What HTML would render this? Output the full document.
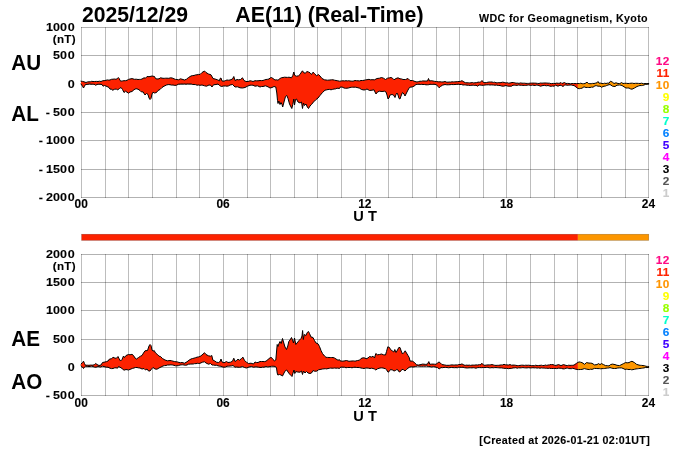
<!DOCTYPE html>
<html><head><meta charset="utf-8"><title>AE(11) (Real-Time) 2025/12/29</title>
<style>
html,body{margin:0;padding:0;background:#fff;}
body{width:700px;height:450px;overflow:hidden;}
svg{display:block;}
text{font-family:"Liberation Sans",sans-serif;font-weight:bold;}
.g rect{fill:#000;fill-opacity:0.3;shape-rendering:crispEdges;}
.g rect.v{fill-opacity:0.26;}
.ol{fill:none;stroke:#000;stroke-width:1;stroke-linejoin:round;stroke-linecap:round;}
.ax text{stroke:#000;stroke-width:0.1px;font-size:11.6px;letter-spacing:0px;word-spacing:-0.3px;}
.lg text{stroke-width:0.12px;font-size:11.8px;letter-spacing:0.4px;}
.big text{font-size:22px;}
.sm{stroke:#000;stroke-width:0.1px;font-size:10.7px;}
.xl text{letter-spacing:0px;font-size:11.9px;word-spacing:0;}
</style></head>
<body>
<svg width="700" height="450" viewBox="0 0 700 450">
<rect width="700" height="450" fill="#fff"/>
<g class="big">
<text transform="translate(82,22) scale(0.963,1)">2025/12/29</text>
<text transform="translate(235.3,22) scale(0.971,1)">AE(11) (Real-Time)</text>
<text transform="translate(11.2,69.6) scale(0.94,1)">AU</text>
<text transform="translate(11.2,120.7) scale(0.94,1)">AL</text>
<text transform="translate(11.2,346.3) scale(0.94,1)">AE</text>
<text transform="translate(11.2,388.6) scale(0.94,1)">AO</text>
</g>
<text class="sm" x="479" y="22" textLength="168.6" lengthAdjust="spacing">WDC for Geomagnetism, Kyoto</text>
<text class="sm" x="479.3" y="443.6" textLength="170.4" lengthAdjust="spacing">[Created at 2026-01-21 02:01UT]</text>
<g class="g">
<rect class="v" x="81" y="27" width="1" height="171"/>
<rect class="v" x="105" y="27" width="1" height="171"/>
<rect class="v" x="128" y="27" width="1" height="171"/>
<rect class="v" x="152" y="27" width="1" height="171"/>
<rect class="v" x="176" y="27" width="1" height="171"/>
<rect class="v" x="199" y="27" width="1" height="171"/>
<rect class="v" x="223" y="27" width="1" height="171"/>
<rect class="v" x="247" y="27" width="1" height="171"/>
<rect class="v" x="270" y="27" width="1" height="171"/>
<rect class="v" x="294" y="27" width="1" height="171"/>
<rect class="v" x="317" y="27" width="1" height="171"/>
<rect class="v" x="341" y="27" width="1" height="171"/>
<rect class="v" x="365" y="27" width="1" height="171"/>
<rect class="v" x="388" y="27" width="1" height="171"/>
<rect class="v" x="412" y="27" width="1" height="171"/>
<rect class="v" x="436" y="27" width="1" height="171"/>
<rect class="v" x="459" y="27" width="1" height="171"/>
<rect class="v" x="483" y="27" width="1" height="171"/>
<rect class="v" x="506" y="27" width="1" height="171"/>
<rect class="v" x="530" y="27" width="1" height="171"/>
<rect class="v" x="554" y="27" width="1" height="171"/>
<rect class="v" x="577" y="27" width="1" height="171"/>
<rect class="v" x="601" y="27" width="1" height="171"/>
<rect class="v" x="625" y="27" width="1" height="171"/>
<rect class="v" x="648" y="27" width="1" height="171"/>
<rect x="81" y="27" width="568" height="1"/>
<rect x="81" y="55" width="568" height="1"/>
<rect x="81" y="84" width="568" height="1"/>
<rect x="81" y="112" width="568" height="1"/>
<rect x="81" y="140" width="568" height="1"/>
<rect x="81" y="169" width="568" height="1"/>
<rect x="81" y="197" width="568" height="1"/>
</g>
<g class="g">
<rect class="v" x="81" y="254" width="1" height="142"/>
<rect class="v" x="105" y="254" width="1" height="142"/>
<rect class="v" x="128" y="254" width="1" height="142"/>
<rect class="v" x="152" y="254" width="1" height="142"/>
<rect class="v" x="176" y="254" width="1" height="142"/>
<rect class="v" x="199" y="254" width="1" height="142"/>
<rect class="v" x="223" y="254" width="1" height="142"/>
<rect class="v" x="247" y="254" width="1" height="142"/>
<rect class="v" x="270" y="254" width="1" height="142"/>
<rect class="v" x="294" y="254" width="1" height="142"/>
<rect class="v" x="317" y="254" width="1" height="142"/>
<rect class="v" x="341" y="254" width="1" height="142"/>
<rect class="v" x="365" y="254" width="1" height="142"/>
<rect class="v" x="388" y="254" width="1" height="142"/>
<rect class="v" x="412" y="254" width="1" height="142"/>
<rect class="v" x="436" y="254" width="1" height="142"/>
<rect class="v" x="459" y="254" width="1" height="142"/>
<rect class="v" x="483" y="254" width="1" height="142"/>
<rect class="v" x="506" y="254" width="1" height="142"/>
<rect class="v" x="530" y="254" width="1" height="142"/>
<rect class="v" x="554" y="254" width="1" height="142"/>
<rect class="v" x="577" y="254" width="1" height="142"/>
<rect class="v" x="601" y="254" width="1" height="142"/>
<rect class="v" x="625" y="254" width="1" height="142"/>
<rect class="v" x="648" y="254" width="1" height="142"/>
<rect x="81" y="254" width="568" height="1"/>
<rect x="81" y="282" width="568" height="1"/>
<rect x="81" y="310" width="568" height="1"/>
<rect x="81" y="339" width="568" height="1"/>
<rect x="81" y="367" width="568" height="1"/>
<rect x="81" y="395" width="568" height="1"/>
</g>
<g>
<polygon points="81.0,81.2 82.5,81.4 84.0,81.8 86.0,82.5 87.5,81.9 89.0,81.8 90.3,81.8 91.7,81.3 93.0,81.5 94.7,81.5 96.3,81.4 98.0,81.5 99.5,81.2 101.0,81.5 102.5,80.8 104.2,80.6 106.0,80.3 107.3,79.9 108.7,80.1 110.0,80.0 111.5,79.3 113.0,79.2 114.5,79.0 116.0,79.3 117.5,78.5 118.3,77.5 119.2,78.5 120.0,80.5 121.0,81.2 122.5,80.9 124.0,80.7 125.5,80.7 127.0,80.3 128.5,79.4 130.0,79.0 132.0,78.6 134.5,79.3 136.2,79.2 138.0,79.5 139.3,79.4 140.7,79.4 142.0,79.0 144.0,77.8 145.5,78.2 147.0,76.5 149.0,76.7 150.0,76.5 152.0,76.0 154.5,76.5 155.5,78.5 157.0,79.0 159.0,78.8 160.5,77.8 163.0,78.3 164.3,78.3 165.7,78.2 167.0,78.2 168.8,78.3 170.5,77.8 172.2,78.0 174.0,78.8 175.5,79.4 177.0,79.5 178.5,79.8 180.5,78.8 183.0,79.5 184.5,80.0 186.5,79.2 188.5,77.5 191.0,76.0 192.5,75.6 194.0,75.5 195.5,74.9 197.0,74.8 198.5,74.4 200.0,74.5 202.0,72.5 204.5,71.0 206.0,72.5 208.5,74.0 211.0,74.8 213.0,78.5 215.0,79.0 217.5,79.8 219.5,80.8 220.0,78.5 221.0,78.0 222.0,81.0 224.0,81.2 225.5,80.5 227.0,80.0 228.5,80.2 230.0,80.0 232.5,79.0 233.8,76.5 235.0,80.5 237.0,79.5 238.5,79.8 240.5,79.5 242.5,77.8 244.0,80.5 246.0,81.5 248.0,81.5 250.0,80.8 251.5,81.0 253.0,81.5 255.0,80.7 256.5,80.8 258.0,80.8 260.0,80.5 261.5,80.6 263.0,80.5 264.5,79.9 266.0,79.5 267.5,79.3 269.0,79.0 270.0,78.0 271.5,77.5 273.0,78.5 275.0,80.0 276.5,79.8 278.0,80.2 280.0,78.5 281.5,77.7 283.0,77.5 284.5,77.2 286.0,77.3 287.5,77.4 289.0,77.2 291.5,77.8 292.8,75.5 293.8,72.0 294.8,75.5 296.5,76.2 298.5,75.8 300.0,74.5 301.5,72.0 302.5,70.8 303.8,72.8 305.5,73.2 306.8,71.5 308.5,72.0 310.0,72.8 311.5,74.5 313.0,72.2 314.5,73.5 316.5,75.8 318.5,74.5 320.0,76.0 322.0,78.5 324.5,79.8 326.0,80.0 327.5,80.2 330.0,80.0 331.5,79.8 333.0,79.8 334.5,80.2 336.0,80.5 337.8,80.8 339.5,81.2 340.0,81.2 341.5,80.9 343.0,80.8 344.5,80.9 346.0,80.7 347.3,80.9 348.7,80.7 350.0,81.0 351.5,81.1 353.0,81.2 355.0,80.5 356.5,80.7 358.0,80.8 359.5,80.9 361.0,80.5 362.5,80.5 364.0,80.3 365.5,79.9 367.0,79.7 369.0,79.3 370.5,79.8 372.0,79.7 374.5,79.8 377.0,78.5 379.5,78.2 381.5,77.5 383.5,78.2 385.5,79.5 387.5,78.2 389.5,77.8 391.0,77.5 392.5,78.2 394.0,79.8 396.0,78.5 398.0,77.8 400.0,78.8 401.5,78.9 403.0,79.5 405.5,79.5 408.0,78.5 409.5,80.0 410.0,80.5 412.5,80.5 415.0,81.5 417.0,82.0 418.5,81.6 420.0,81.2 421.3,81.3 422.7,80.9 424.0,81.0 425.8,81.0 427.5,81.0 428.5,78.5 429.5,81.0 431.2,80.7 433.0,81.0 434.8,81.4 436.5,81.5 438.2,81.8 440.0,81.8 441.5,81.9 443.0,82.0 445.0,81.5 446.5,82.1 448.0,82.2 449.3,82.0 450.7,82.1 452.0,81.8 453.3,81.9 454.7,81.8 456.0,81.8 457.5,81.6 459.0,81.5 460.5,81.3 462.0,80.7 464.0,82.0 465.5,82.7 467.0,82.8 468.3,82.8 469.7,82.9 471.0,82.8 472.3,82.5 473.7,82.9 475.0,82.8 476.5,82.6 478.0,82.2 479.5,82.0 480.0,82.5 482.0,80.5 483.5,82.5 485.0,82.7 486.5,82.5 488.0,82.2 489.3,82.0 490.7,82.0 492.0,82.0 493.3,82.4 494.7,82.2 496.0,82.8 497.3,82.8 498.7,82.6 500.0,82.8 502.5,82.2 504.2,82.4 506.0,83.0 507.3,82.7 508.7,83.2 510.0,83.0 512.0,82.5 513.3,82.5 514.7,82.8 516.0,83.2 517.5,83.1 519.0,83.4 520.5,82.9 522.0,83.2 523.3,83.2 524.7,83.2 526.0,83.4 527.3,83.4 528.7,83.4 530.0,83.2 531.5,83.1 533.0,83.1 534.5,83.1 536.0,83.2 537.5,83.4 539.0,83.5 540.5,83.0 542.0,83.2 543.5,83.0 545.0,83.0 546.5,83.0 548.0,83.2 549.5,83.2 550.0,83.5 551.7,83.6 553.3,83.4 555.0,83.5 556.7,83.1 558.3,83.3 560.0,83.2 561.0,82.5 562.0,83.5 564.5,82.5 566.0,83.5 567.5,83.4 569.0,83.5 570.5,83.8 572.0,83.5 573.5,83.6 575.0,83.5 576.5,83.6 577.9,83.5 577.9,88.4 576.0,87.0 574.0,85.5 572.7,85.5 571.3,85.0 570.0,85.0 568.6,85.2 567.2,85.3 565.9,84.9 564.5,85.2 563.0,86.5 561.5,85.6 560.0,85.2 558.0,86.2 555.5,85.2 554.0,86.2 552.7,86.0 551.3,86.3 550.0,86.2 549.5,86.0 548.0,85.5 546.3,85.8 544.7,85.4 543.0,85.5 540.5,86.2 538.0,85.2 536.7,85.1 535.3,85.5 534.0,85.4 532.7,85.1 531.3,85.4 530.0,85.2 528.6,85.0 527.1,85.2 525.7,85.4 524.3,85.4 522.9,85.4 521.4,85.3 520.0,85.2 518.6,85.0 517.2,85.4 515.8,85.3 514.4,85.2 513.0,85.2 511.5,86.2 509.0,86.2 507.5,86.1 506.0,85.5 503.5,86.2 501.8,86.1 500.0,85.5 498.3,85.5 496.7,85.1 495.0,85.2 493.3,85.0 491.7,84.9 490.0,85.0 488.3,84.8 486.7,84.9 485.0,85.0 483.3,85.3 481.7,85.3 480.0,85.0 479.0,85.0 477.5,86.2 476.0,85.2 474.7,85.5 473.3,85.2 472.0,85.2 470.3,85.5 468.7,85.3 467.0,85.2 465.7,85.0 464.3,84.9 463.0,85.0 461.5,84.5 460.0,84.5 458.3,84.2 456.7,84.4 455.0,84.5 453.3,84.6 451.7,84.5 450.0,84.7 448.3,84.8 446.7,84.8 445.0,84.5 442.5,85.2 440.5,86.5 439.2,87.8 438.0,86.5 436.5,84.8 434.0,84.2 432.7,84.4 431.3,84.4 430.0,84.2 428.7,84.7 427.3,84.8 426.0,84.8 424.5,84.5 423.0,84.5 421.7,84.3 420.3,84.5 419.0,84.2 417.5,84.4 416.0,84.5 414.0,86.2 412.0,87.0 410.0,87.2 409.5,87.5 408.0,90.0 406.5,93.0 405.0,96.0 404.0,94.0 402.5,92.5 401.0,96.0 400.0,99.0 399.0,98.5 398.0,95.0 397.0,93.0 396.0,94.5 395.0,97.5 393.5,95.0 392.0,94.5 390.0,95.0 389.0,98.0 388.0,99.0 387.0,95.0 386.0,92.0 384.5,91.2 382.0,91.5 379.5,91.2 377.5,92.0 376.0,94.0 375.0,92.0 374.0,89.8 372.0,90.2 369.5,90.5 367.0,89.0 365.5,89.7 364.0,90.0 361.5,89.5 359.5,88.2 357.0,87.5 355.5,87.2 354.0,87.2 352.7,87.2 351.3,87.3 350.0,87.5 348.5,88.0 347.0,88.2 345.5,88.3 344.0,88.0 342.0,87.0 340.0,87.2 339.5,88.5 337.0,88.2 335.5,88.9 334.0,89.0 332.5,89.4 331.0,89.8 329.5,89.4 328.0,89.5 326.5,89.9 325.0,90.2 322.5,92.5 320.0,95.5 318.0,98.0 315.5,100.0 313.5,102.0 311.5,104.5 310.0,106.0 308.5,108.5 307.5,107.5 306.0,104.0 304.5,105.5 303.5,103.0 302.5,108.5 301.5,102.0 300.0,103.0 298.0,102.0 296.5,99.0 295.5,99.5 294.5,105.0 293.8,99.0 292.8,104.5 291.8,108.5 291.0,107.0 289.5,104.0 288.0,98.5 286.8,95.5 285.5,96.5 284.0,102.0 282.7,107.0 282.0,104.5 281.0,102.5 280.0,104.5 278.8,101.0 278.0,103.5 277.5,100.5 276.8,93.0 275.8,87.0 274.0,86.5 272.0,87.5 270.0,88.0 268.0,86.8 265.5,85.8 263.0,86.5 261.5,86.5 260.0,87.0 257.5,85.8 255.0,86.2 253.0,85.2 251.5,85.2 250.0,85.2 247.5,86.2 245.0,87.5 242.5,88.0 240.0,87.8 237.5,86.8 235.0,87.0 232.5,84.5 230.0,85.0 228.5,85.9 227.0,86.2 225.5,86.0 223.5,86.0 221.5,86.5 220.0,85.8 219.5,85.5 218.0,84.0 216.0,84.5 213.5,84.8 212.0,87.0 210.5,85.2 209.0,85.0 206.5,86.2 204.5,85.8 202.0,85.0 200.0,85.3 198.5,85.0 197.0,85.2 195.5,84.6 194.0,84.5 192.7,84.5 191.3,84.0 190.0,84.0 188.7,84.0 187.3,83.9 186.0,84.2 184.7,83.9 183.3,84.1 182.0,84.0 180.2,84.1 178.5,84.2 176.5,85.2 174.8,85.4 173.0,85.0 171.5,85.1 170.0,84.7 168.2,84.6 166.5,85.0 164.0,86.2 162.0,87.5 160.0,89.5 158.0,90.5 156.5,92.5 154.5,93.0 153.0,92.2 152.0,94.0 151.0,98.5 150.0,99.5 149.0,98.0 148.0,94.5 146.5,93.5 145.0,95.0 143.0,91.8 141.5,92.0 140.0,90.5 138.0,89.2 136.0,88.7 134.0,89.7 132.0,91.5 130.0,92.0 128.5,93.2 127.0,92.2 125.5,91.2 124.0,92.5 122.5,89.5 121.0,87.5 119.5,88.5 117.5,90.0 116.5,89.0 114.5,89.3 112.5,90.3 111.5,89.0 110.0,89.2 109.0,87.5 107.0,86.5 104.5,85.5 103.0,86.2 102.0,84.5 100.0,84.2 98.2,84.3 96.5,84.5 95.8,85.5 95.0,84.5 93.7,84.3 92.3,84.2 91.0,84.2 89.5,84.0 88.0,84.3 85.5,84.5 84.5,86.2 83.5,88.0 82.5,86.2 81.0,84.0" fill="#fc2200"/>
<polygon points="577.9,83.5 578.0,83.5 579.4,83.6 580.8,83.2 582.2,83.7 583.6,83.7 585.0,83.5 587.0,82.2 588.5,83.5 589.9,83.7 591.2,83.7 592.6,83.4 594.0,83.5 595.5,83.1 597.0,82.8 598.0,81.5 599.0,83.2 600.5,83.1 602.0,83.5 603.3,83.6 604.7,83.2 606.0,83.5 607.5,83.1 609.0,83.2 610.5,81.2 612.5,82.2 614.0,83.5 616.0,82.8 618.0,83.5 619.5,83.5 620.0,83.5 621.5,82.5 623.0,83.5 624.7,83.3 626.3,83.3 628.0,83.5 629.5,83.4 631.0,83.2 632.5,83.2 634.0,83.5 635.5,83.3 637.0,83.3 638.5,83.4 640.0,83.5 641.7,83.2 643.3,83.7 645.0,83.5 646.9,83.6 648.7,83.5 648.7,84.0 647.0,84.2 645.5,84.4 644.0,85.0 642.7,85.4 641.3,85.6 640.0,85.5 638.5,86.0 637.0,86.5 634.5,88.0 632.0,89.2 630.5,88.9 629.0,88.0 627.5,88.0 626.0,88.0 624.0,86.8 622.0,85.5 620.0,85.0 619.5,85.0 617.0,85.2 615.0,86.5 612.5,86.2 610.0,84.5 608.0,85.0 606.7,85.5 605.3,86.1 604.0,86.2 601.5,87.2 600.0,86.2 598.0,86.2 596.5,85.7 595.0,85.8 593.0,87.2 591.5,87.1 590.0,87.5 588.7,87.5 587.3,87.4 586.0,87.5 584.0,86.8 582.0,88.2 580.7,88.4 579.3,88.7 578.0,88.5 577.9,88.4" fill="#fc9600"/>
<polyline points="81.0,81.2 82.5,81.4 84.0,81.8 86.0,82.5 87.5,81.9 89.0,81.8 90.3,81.8 91.7,81.3 93.0,81.5 94.7,81.5 96.3,81.4 98.0,81.5 99.5,81.2 101.0,81.5 102.5,80.8 104.2,80.6 106.0,80.3 107.3,79.9 108.7,80.1 110.0,80.0 111.5,79.3 113.0,79.2 114.5,79.0 116.0,79.3 117.5,78.5 118.3,77.5 119.2,78.5 120.0,80.5 121.0,81.2 122.5,80.9 124.0,80.7 125.5,80.7 127.0,80.3 128.5,79.4 130.0,79.0 132.0,78.6 134.5,79.3 136.2,79.2 138.0,79.5 139.3,79.4 140.7,79.4 142.0,79.0 144.0,77.8 145.5,78.2 147.0,76.5 149.0,76.7 150.0,76.5 152.0,76.0 154.5,76.5 155.5,78.5 157.0,79.0 159.0,78.8 160.5,77.8 163.0,78.3 164.3,78.3 165.7,78.2 167.0,78.2 168.8,78.3 170.5,77.8 172.2,78.0 174.0,78.8 175.5,79.4 177.0,79.5 178.5,79.8 180.5,78.8 183.0,79.5 184.5,80.0 186.5,79.2 188.5,77.5 191.0,76.0 192.5,75.6 194.0,75.5 195.5,74.9 197.0,74.8 198.5,74.4 200.0,74.5 202.0,72.5 204.5,71.0 206.0,72.5 208.5,74.0 211.0,74.8 213.0,78.5 215.0,79.0 217.5,79.8 219.5,80.8 220.0,78.5 221.0,78.0 222.0,81.0 224.0,81.2 225.5,80.5 227.0,80.0 228.5,80.2 230.0,80.0 232.5,79.0 233.8,76.5 235.0,80.5 237.0,79.5 238.5,79.8 240.5,79.5 242.5,77.8 244.0,80.5 246.0,81.5 248.0,81.5 250.0,80.8 251.5,81.0 253.0,81.5 255.0,80.7 256.5,80.8 258.0,80.8 260.0,80.5 261.5,80.6 263.0,80.5 264.5,79.9 266.0,79.5 267.5,79.3 269.0,79.0 270.0,78.0 271.5,77.5 273.0,78.5 275.0,80.0 276.5,79.8 278.0,80.2 280.0,78.5 281.5,77.7 283.0,77.5 284.5,77.2 286.0,77.3 287.5,77.4 289.0,77.2 291.5,77.8 292.8,75.5 293.8,72.0 294.8,75.5 296.5,76.2 298.5,75.8 300.0,74.5 301.5,72.0 302.5,70.8 303.8,72.8 305.5,73.2 306.8,71.5 308.5,72.0 310.0,72.8 311.5,74.5 313.0,72.2 314.5,73.5 316.5,75.8 318.5,74.5 320.0,76.0 322.0,78.5 324.5,79.8 326.0,80.0 327.5,80.2 330.0,80.0 331.5,79.8 333.0,79.8 334.5,80.2 336.0,80.5 337.8,80.8 339.5,81.2 340.0,81.2 341.5,80.9 343.0,80.8 344.5,80.9 346.0,80.7 347.3,80.9 348.7,80.7 350.0,81.0 351.5,81.1 353.0,81.2 355.0,80.5 356.5,80.7 358.0,80.8 359.5,80.9 361.0,80.5 362.5,80.5 364.0,80.3 365.5,79.9 367.0,79.7 369.0,79.3 370.5,79.8 372.0,79.7 374.5,79.8 377.0,78.5 379.5,78.2 381.5,77.5 383.5,78.2 385.5,79.5 387.5,78.2 389.5,77.8 391.0,77.5 392.5,78.2 394.0,79.8 396.0,78.5 398.0,77.8 400.0,78.8 401.5,78.9 403.0,79.5 405.5,79.5 408.0,78.5 409.5,80.0 410.0,80.5 412.5,80.5 415.0,81.5 417.0,82.0 418.5,81.6 420.0,81.2 421.3,81.3 422.7,80.9 424.0,81.0 425.8,81.0 427.5,81.0 428.5,78.5 429.5,81.0 431.2,80.7 433.0,81.0 434.8,81.4 436.5,81.5 438.2,81.8 440.0,81.8 441.5,81.9 443.0,82.0 445.0,81.5 446.5,82.1 448.0,82.2 449.3,82.0 450.7,82.1 452.0,81.8 453.3,81.9 454.7,81.8 456.0,81.8 457.5,81.6 459.0,81.5 460.5,81.3 462.0,80.7 464.0,82.0 465.5,82.7 467.0,82.8 468.3,82.8 469.7,82.9 471.0,82.8 472.3,82.5 473.7,82.9 475.0,82.8 476.5,82.6 478.0,82.2 479.5,82.0 480.0,82.5 482.0,80.5 483.5,82.5 485.0,82.7 486.5,82.5 488.0,82.2 489.3,82.0 490.7,82.0 492.0,82.0 493.3,82.4 494.7,82.2 496.0,82.8 497.3,82.8 498.7,82.6 500.0,82.8 502.5,82.2 504.2,82.4 506.0,83.0 507.3,82.7 508.7,83.2 510.0,83.0 512.0,82.5 513.3,82.5 514.7,82.8 516.0,83.2 517.5,83.1 519.0,83.4 520.5,82.9 522.0,83.2 523.3,83.2 524.7,83.2 526.0,83.4 527.3,83.4 528.7,83.4 530.0,83.2 531.5,83.1 533.0,83.1 534.5,83.1 536.0,83.2 537.5,83.4 539.0,83.5 540.5,83.0 542.0,83.2 543.5,83.0 545.0,83.0 546.5,83.0 548.0,83.2 549.5,83.2 550.0,83.5 551.7,83.6 553.3,83.4 555.0,83.5 556.7,83.1 558.3,83.3 560.0,83.2 561.0,82.5 562.0,83.5 564.5,82.5 566.0,83.5 567.5,83.4 569.0,83.5 570.5,83.8 572.0,83.5 573.5,83.6 575.0,83.5 576.5,83.6 578.0,83.5 579.4,83.6 580.8,83.2 582.2,83.7 583.6,83.7 585.0,83.5 587.0,82.2 588.5,83.5 589.9,83.7 591.2,83.7 592.6,83.4 594.0,83.5 595.5,83.1 597.0,82.8 598.0,81.5 599.0,83.2 600.5,83.1 602.0,83.5 603.3,83.6 604.7,83.2 606.0,83.5 607.5,83.1 609.0,83.2 610.5,81.2 612.5,82.2 614.0,83.5 616.0,82.8 618.0,83.5 619.5,83.5 620.0,83.5 621.5,82.5 623.0,83.5 624.7,83.3 626.3,83.3 628.0,83.5 629.5,83.4 631.0,83.2 632.5,83.2 634.0,83.5 635.5,83.3 637.0,83.3 638.5,83.4 640.0,83.5 641.7,83.2 643.3,83.7 645.0,83.5 646.9,83.6 648.7,83.5" class="ol"/>
<polyline points="81.0,84.0 82.5,86.2 83.5,88.0 84.5,86.2 85.5,84.5 88.0,84.3 89.5,84.0 91.0,84.2 92.3,84.2 93.7,84.3 95.0,84.5 95.8,85.5 96.5,84.5 98.2,84.3 100.0,84.2 102.0,84.5 103.0,86.2 104.5,85.5 107.0,86.5 109.0,87.5 110.0,89.2 111.5,89.0 112.5,90.3 114.5,89.3 116.5,89.0 117.5,90.0 119.5,88.5 121.0,87.5 122.5,89.5 124.0,92.5 125.5,91.2 127.0,92.2 128.5,93.2 130.0,92.0 132.0,91.5 134.0,89.7 136.0,88.7 138.0,89.2 140.0,90.5 141.5,92.0 143.0,91.8 145.0,95.0 146.5,93.5 148.0,94.5 149.0,98.0 150.0,99.5 151.0,98.5 152.0,94.0 153.0,92.2 154.5,93.0 156.5,92.5 158.0,90.5 160.0,89.5 162.0,87.5 164.0,86.2 166.5,85.0 168.2,84.6 170.0,84.7 171.5,85.1 173.0,85.0 174.8,85.4 176.5,85.2 178.5,84.2 180.2,84.1 182.0,84.0 183.3,84.1 184.7,83.9 186.0,84.2 187.3,83.9 188.7,84.0 190.0,84.0 191.3,84.0 192.7,84.5 194.0,84.5 195.5,84.6 197.0,85.2 198.5,85.0 200.0,85.3 202.0,85.0 204.5,85.8 206.5,86.2 209.0,85.0 210.5,85.2 212.0,87.0 213.5,84.8 216.0,84.5 218.0,84.0 219.5,85.5 220.0,85.8 221.5,86.5 223.5,86.0 225.5,86.0 227.0,86.2 228.5,85.9 230.0,85.0 232.5,84.5 235.0,87.0 237.5,86.8 240.0,87.8 242.5,88.0 245.0,87.5 247.5,86.2 250.0,85.2 251.5,85.2 253.0,85.2 255.0,86.2 257.5,85.8 260.0,87.0 261.5,86.5 263.0,86.5 265.5,85.8 268.0,86.8 270.0,88.0 272.0,87.5 274.0,86.5 275.8,87.0 276.8,93.0 277.5,100.5 278.0,103.5 278.8,101.0 280.0,104.5 281.0,102.5 282.0,104.5 282.7,107.0 284.0,102.0 285.5,96.5 286.8,95.5 288.0,98.5 289.5,104.0 291.0,107.0 291.8,108.5 292.8,104.5 293.8,99.0 294.5,105.0 295.5,99.5 296.5,99.0 298.0,102.0 300.0,103.0 301.5,102.0 302.5,108.5 303.5,103.0 304.5,105.5 306.0,104.0 307.5,107.5 308.5,108.5 310.0,106.0 311.5,104.5 313.5,102.0 315.5,100.0 318.0,98.0 320.0,95.5 322.5,92.5 325.0,90.2 326.5,89.9 328.0,89.5 329.5,89.4 331.0,89.8 332.5,89.4 334.0,89.0 335.5,88.9 337.0,88.2 339.5,88.5 340.0,87.2 342.0,87.0 344.0,88.0 345.5,88.3 347.0,88.2 348.5,88.0 350.0,87.5 351.3,87.3 352.7,87.2 354.0,87.2 355.5,87.2 357.0,87.5 359.5,88.2 361.5,89.5 364.0,90.0 365.5,89.7 367.0,89.0 369.5,90.5 372.0,90.2 374.0,89.8 375.0,92.0 376.0,94.0 377.5,92.0 379.5,91.2 382.0,91.5 384.5,91.2 386.0,92.0 387.0,95.0 388.0,99.0 389.0,98.0 390.0,95.0 392.0,94.5 393.5,95.0 395.0,97.5 396.0,94.5 397.0,93.0 398.0,95.0 399.0,98.5 400.0,99.0 401.0,96.0 402.5,92.5 404.0,94.0 405.0,96.0 406.5,93.0 408.0,90.0 409.5,87.5 410.0,87.2 412.0,87.0 414.0,86.2 416.0,84.5 417.5,84.4 419.0,84.2 420.3,84.5 421.7,84.3 423.0,84.5 424.5,84.5 426.0,84.8 427.3,84.8 428.7,84.7 430.0,84.2 431.3,84.4 432.7,84.4 434.0,84.2 436.5,84.8 438.0,86.5 439.2,87.8 440.5,86.5 442.5,85.2 445.0,84.5 446.7,84.8 448.3,84.8 450.0,84.7 451.7,84.5 453.3,84.6 455.0,84.5 456.7,84.4 458.3,84.2 460.0,84.5 461.5,84.5 463.0,85.0 464.3,84.9 465.7,85.0 467.0,85.2 468.7,85.3 470.3,85.5 472.0,85.2 473.3,85.2 474.7,85.5 476.0,85.2 477.5,86.2 479.0,85.0 480.0,85.0 481.7,85.3 483.3,85.3 485.0,85.0 486.7,84.9 488.3,84.8 490.0,85.0 491.7,84.9 493.3,85.0 495.0,85.2 496.7,85.1 498.3,85.5 500.0,85.5 501.8,86.1 503.5,86.2 506.0,85.5 507.5,86.1 509.0,86.2 511.5,86.2 513.0,85.2 514.4,85.2 515.8,85.3 517.2,85.4 518.6,85.0 520.0,85.2 521.4,85.3 522.9,85.4 524.3,85.4 525.7,85.4 527.1,85.2 528.6,85.0 530.0,85.2 531.3,85.4 532.7,85.1 534.0,85.4 535.3,85.5 536.7,85.1 538.0,85.2 540.5,86.2 543.0,85.5 544.7,85.4 546.3,85.8 548.0,85.5 549.5,86.0 550.0,86.2 551.3,86.3 552.7,86.0 554.0,86.2 555.5,85.2 558.0,86.2 560.0,85.2 561.5,85.6 563.0,86.5 564.5,85.2 565.9,84.9 567.2,85.3 568.6,85.2 570.0,85.0 571.3,85.0 572.7,85.5 574.0,85.5 576.0,87.0 578.0,88.5 579.3,88.7 580.7,88.4 582.0,88.2 584.0,86.8 586.0,87.5 587.3,87.4 588.7,87.5 590.0,87.5 591.5,87.1 593.0,87.2 595.0,85.8 596.5,85.7 598.0,86.2 600.0,86.2 601.5,87.2 604.0,86.2 605.3,86.1 606.7,85.5 608.0,85.0 610.0,84.5 612.5,86.2 615.0,86.5 617.0,85.2 619.5,85.0 620.0,85.0 622.0,85.5 624.0,86.8 626.0,88.0 627.5,88.0 629.0,88.0 630.5,88.9 632.0,89.2 634.5,88.0 637.0,86.5 638.5,86.0 640.0,85.5 641.3,85.6 642.7,85.4 644.0,85.0 645.5,84.4 647.0,84.2 648.7,84.0" class="ol"/>
<polygon points="81.0,364.0 82.5,362.5 83.5,361.2 84.5,363.5 85.5,365.3 87.2,365.2 89.0,365.3 90.3,365.1 91.7,365.1 93.0,365.2 94.5,364.5 95.7,363.5 97.0,364.5 99.0,365.5 101.0,365.0 102.5,362.5 105.0,362.0 106.5,361.6 108.0,361.0 109.5,359.0 111.5,358.8 113.0,357.2 115.0,358.2 116.5,358.2 118.0,356.5 119.0,358.5 120.5,361.0 122.0,359.5 123.5,356.0 124.5,357.5 126.0,355.5 128.5,354.5 130.0,354.8 132.0,354.3 133.5,355.5 135.0,358.0 136.5,359.0 138.5,357.5 140.5,356.2 142.0,355.5 143.5,353.0 145.0,350.8 147.5,350.5 149.0,346.0 150.0,344.5 151.0,345.5 152.0,350.0 153.0,351.2 154.2,350.5 155.5,353.0 157.5,354.5 159.0,356.2 160.5,356.5 162.5,358.5 165.0,360.0 167.5,360.8 170.0,360.5 171.5,360.7 173.0,361.2 174.5,361.5 176.0,361.8 177.5,361.9 179.0,362.5 180.5,362.7 182.0,362.5 184.5,363.2 187.0,361.8 189.0,360.2 191.0,359.0 192.5,358.5 194.0,358.2 195.5,357.7 197.0,357.2 198.5,356.9 200.0,356.5 202.0,355.0 204.5,352.7 206.0,354.5 208.5,355.8 210.5,356.2 211.8,355.5 212.8,360.0 214.5,360.8 216.5,362.2 218.5,362.5 219.5,361.8 220.0,361.8 221.0,359.0 222.0,362.0 224.0,362.8 226.5,361.5 228.0,362.5 230.5,362.2 232.5,361.2 233.8,358.2 235.0,361.5 236.5,360.5 238.0,359.2 239.5,360.2 241.5,358.5 243.0,357.2 244.5,360.5 246.5,362.2 248.5,363.5 251.0,363.2 253.5,364.0 255.0,362.0 256.5,362.5 258.0,362.5 260.0,361.5 261.5,361.5 263.0,361.5 264.5,361.6 266.0,361.2 268.0,359.5 270.0,357.8 271.5,357.5 273.0,359.5 274.5,360.8 275.8,360.0 276.5,352.0 277.2,344.5 278.0,346.5 279.0,343.5 280.0,341.5 281.2,343.5 282.5,338.5 283.5,342.0 285.0,347.0 286.5,349.5 287.8,346.0 288.8,341.5 290.0,340.0 291.5,337.5 292.5,340.0 293.5,343.0 294.5,338.0 295.8,344.5 297.0,343.0 299.0,340.5 301.0,338.5 302.0,336.0 302.6,330.5 303.3,339.5 304.2,334.5 306.0,335.5 307.2,332.5 308.5,331.5 309.5,333.5 311.0,337.0 313.0,337.5 314.5,340.5 316.0,343.0 318.0,343.8 319.5,346.5 321.0,350.5 322.5,353.5 324.5,356.0 326.0,357.3 327.5,357.4 329.0,357.5 330.3,357.5 331.7,357.5 333.0,357.5 334.5,358.0 336.0,359.0 338.0,360.2 339.5,359.7 340.0,360.8 342.0,361.2 344.0,361.0 346.5,360.5 349.0,361.3 350.5,361.1 352.0,361.0 353.5,360.9 355.0,361.2 357.5,360.5 359.5,360.2 361.0,358.5 363.0,357.8 365.0,358.0 366.0,358.8 368.0,358.0 369.5,356.5 371.5,357.0 373.0,356.2 374.5,358.0 375.8,353.5 377.5,354.8 379.5,354.5 381.5,354.0 383.5,354.8 385.5,355.0 386.5,351.5 387.8,346.8 389.5,347.5 390.5,349.5 392.5,351.0 393.8,352.0 394.8,349.5 396.0,352.5 397.5,350.0 398.8,347.5 400.0,347.5 401.2,351.0 402.5,354.0 404.0,352.5 405.2,350.8 406.5,353.0 408.0,355.5 409.2,357.5 410.0,361.0 412.5,361.2 414.5,362.5 416.5,364.8 418.5,365.0 421.0,364.5 422.5,364.1 424.0,364.2 425.8,364.4 427.5,364.1 428.8,361.6 429.8,364.3 431.4,364.1 433.0,364.1 434.5,364.2 436.0,364.3 437.5,363.1 439.0,361.9 440.5,363.1 442.0,364.6 444.5,364.9 446.2,365.3 448.0,365.3 449.3,365.3 450.7,365.0 452.0,364.9 453.3,365.0 454.7,365.0 456.0,364.9 457.3,365.0 458.7,364.5 460.0,364.6 462.0,363.9 464.0,365.1 465.3,365.3 466.7,365.1 468.0,365.3 469.3,365.1 470.7,365.4 472.0,365.1 473.3,365.1 474.7,365.1 476.0,364.9 477.8,365.0 479.5,364.6 480.0,365.1 482.0,363.3 483.5,365.1 485.0,365.3 486.5,365.0 488.0,364.9 489.3,364.9 490.7,364.8 492.0,364.6 493.3,364.9 494.7,365.3 496.0,365.4 497.3,365.3 498.7,365.3 500.0,365.1 501.3,364.9 502.7,364.9 504.0,364.3 505.5,364.8 507.0,364.9 508.5,365.0 510.0,364.6 511.5,365.2 513.0,365.1 514.4,365.1 515.8,365.3 517.2,365.6 518.6,365.6 520.0,365.4 521.4,365.2 522.9,365.2 524.3,365.4 525.7,365.2 527.1,365.3 528.6,365.2 530.0,365.4 531.4,365.6 532.9,365.6 534.3,365.7 535.7,365.2 537.1,365.6 538.6,365.5 540.0,365.4 541.4,365.2 542.7,365.5 544.1,365.5 545.4,365.0 546.8,365.4 548.1,365.0 549.5,364.9 550.0,364.6 551.5,364.6 553.0,364.6 554.5,365.3 556.0,365.4 558.5,364.6 561.0,365.6 563.5,364.6 566.0,365.4 567.3,365.6 568.7,365.2 570.0,365.4 571.3,365.3 572.7,365.3 574.0,365.1 576.5,363.3 577.9,362.6 577.9,369.5 577.0,369.4 575.5,369.2 574.0,368.6 572.7,368.3 571.3,368.7 570.0,368.6 568.7,368.6 567.3,368.1 566.0,368.2 564.5,368.8 563.0,368.9 561.5,368.4 560.0,368.2 558.3,368.2 556.7,368.6 555.0,368.4 553.3,368.5 551.7,368.5 550.0,368.4 549.5,368.2 548.1,368.4 546.8,368.2 545.4,368.3 544.1,368.0 542.7,368.1 541.4,367.9 540.0,368.2 538.6,367.9 537.1,368.1 535.7,367.8 534.3,367.9 532.9,367.7 531.4,367.9 530.0,367.9 528.6,367.7 527.1,367.9 525.7,367.9 524.3,367.8 522.9,367.6 521.4,367.8 520.0,367.9 518.6,367.8 517.2,368.2 515.8,367.7 514.4,367.9 513.0,367.9 511.5,368.4 510.0,368.4 508.3,368.7 506.7,368.3 505.0,368.4 503.3,368.2 501.7,367.9 500.0,367.9 498.7,367.8 497.3,367.7 496.0,367.6 494.7,367.6 493.3,367.8 492.0,367.6 490.6,367.8 489.2,367.8 487.8,367.4 486.4,367.4 485.0,367.6 483.3,367.5 481.7,367.7 480.0,367.6 479.5,367.6 477.8,367.6 476.0,368.2 474.7,367.9 473.3,367.7 472.0,367.9 470.5,367.8 469.0,367.8 467.5,368.0 466.0,367.9 464.5,367.7 463.0,367.2 461.5,367.4 460.0,367.2 458.7,367.2 457.3,367.8 456.0,367.6 454.5,367.7 453.0,367.6 451.5,367.5 450.0,367.6 448.5,367.8 447.0,367.5 445.5,367.4 444.0,367.4 442.5,367.7 441.0,367.6 439.2,368.9 437.5,367.6 435.0,366.9 433.3,366.6 431.7,367.0 430.0,366.6 428.3,366.5 426.7,366.1 425.0,366.2 423.3,366.2 421.7,366.3 420.0,366.2 417.5,366.0 415.5,366.5 413.0,367.0 411.5,366.7 410.0,367.0 409.5,367.2 408.0,368.2 406.5,369.5 405.0,371.0 403.2,369.5 401.8,369.5 400.5,371.5 399.2,372.0 398.0,370.0 396.8,369.5 395.5,370.5 394.0,371.0 392.5,370.0 390.5,369.5 389.2,371.5 388.0,372.2 386.8,370.0 385.5,368.8 383.0,368.0 381.5,367.9 380.0,368.0 377.5,368.8 375.8,370.0 374.5,369.0 373.0,368.5 371.5,368.2 370.0,368.5 368.5,368.2 367.0,368.0 365.5,368.1 364.0,368.5 362.5,368.3 361.0,368.0 359.5,367.6 358.0,367.5 356.5,367.5 355.0,367.2 353.5,367.4 352.0,367.8 350.5,367.5 349.0,367.5 347.5,367.5 346.0,367.8 344.5,367.2 343.0,367.2 341.5,367.1 340.0,367.5 339.5,368.5 337.8,368.1 336.0,368.2 334.7,368.0 333.3,368.2 332.0,368.2 330.7,368.1 329.3,368.3 328.0,368.5 326.7,368.9 325.3,368.7 324.0,368.8 322.5,369.0 321.0,369.3 318.5,369.8 316.5,371.2 314.5,371.2 313.0,370.5 311.5,373.0 310.0,373.5 308.0,373.0 306.5,371.5 305.0,373.0 303.5,371.0 302.5,374.5 301.5,371.0 300.0,372.2 297.5,372.0 295.8,371.5 294.8,373.5 294.0,370.0 293.0,373.0 292.0,376.5 291.0,375.5 289.5,374.0 288.0,372.0 286.8,370.0 285.5,370.5 284.0,373.0 282.5,376.0 281.0,375.0 279.5,374.5 277.8,375.0 277.2,373.0 276.5,368.0 275.5,366.5 273.0,366.2 271.5,366.3 270.0,366.5 269.0,366.8 267.5,366.9 266.0,366.5 264.0,367.2 262.5,367.1 261.0,367.5 258.5,367.2 256.0,366.8 253.5,367.2 251.5,366.5 249.0,367.0 246.5,368.0 244.5,367.5 242.5,366.5 241.0,367.0 239.5,367.3 238.0,367.2 236.5,367.0 235.0,367.2 233.0,365.5 231.5,365.9 230.0,366.0 228.5,366.2 227.0,366.2 225.5,367.0 224.0,367.2 222.0,366.8 220.0,366.0 219.5,366.2 218.0,365.8 216.5,365.3 215.0,365.3 213.5,365.1 212.0,365.0 210.5,363.5 208.5,364.2 206.0,363.0 204.5,361.8 202.5,362.2 200.0,363.3 198.7,363.5 197.3,363.3 196.0,363.7 194.7,363.6 193.3,364.0 192.0,364.0 190.2,364.1 188.5,364.2 187.0,365.0 185.5,365.3 184.0,365.0 182.7,364.8 181.3,364.9 180.0,365.0 178.5,365.6 177.0,365.8 175.5,365.8 174.0,365.3 172.5,365.0 171.0,364.8 169.0,365.0 167.5,365.0 166.0,365.5 164.5,365.6 163.0,366.0 161.0,367.0 159.0,368.0 157.0,369.2 155.0,369.0 153.0,367.5 151.5,369.0 150.0,371.0 148.5,371.0 147.0,369.0 145.5,370.0 144.0,368.5 142.0,369.0 140.0,368.0 138.5,367.9 137.0,367.5 135.5,367.5 134.0,368.0 132.5,368.4 131.0,369.0 128.5,370.0 126.0,369.5 124.0,370.2 122.0,368.5 120.0,367.2 118.5,366.5 117.5,368.2 116.0,367.8 114.5,367.9 113.0,368.5 111.5,368.6 110.0,368.2 108.0,367.2 106.5,367.2 105.0,366.8 102.5,366.2 100.5,367.0 98.0,366.5 96.0,367.2 94.5,367.1 93.0,366.5 91.7,366.2 90.3,366.5 89.0,366.5 87.2,366.4 85.5,366.2 84.5,367.2 83.5,368.5 82.5,367.0 81.0,366.0" fill="#fc2200"/>
<polygon points="577.9,362.6 579.0,361.9 580.5,362.2 582.0,362.6 584.5,364.3 586.5,362.6 589.0,363.1 590.5,363.1 592.0,363.3 594.5,364.9 597.0,364.6 598.5,363.6 600.0,364.6 601.5,363.6 603.5,364.6 605.5,365.6 607.2,365.7 609.0,365.9 610.5,364.6 612.5,364.1 615.0,364.6 617.0,365.3 619.5,365.6 621.0,364.9 623.5,363.6 625.5,362.6 627.2,362.8 629.0,362.6 630.5,361.7 632.0,361.3 634.5,362.6 636.5,364.3 639.0,365.1 640.3,365.3 641.7,365.4 643.0,365.6 644.5,365.7 646.0,366.3 647.4,366.4 648.7,366.6 648.7,367.4 647.0,367.6 645.5,367.5 644.0,367.9 642.7,368.1 641.3,368.3 640.0,368.4 638.7,368.6 637.3,368.8 636.0,368.9 634.5,369.3 633.0,369.6 631.7,369.8 630.3,369.4 629.0,369.6 627.7,369.4 626.3,369.2 625.0,369.4 623.0,368.4 621.5,367.9 620.0,367.9 619.5,367.9 617.8,368.0 616.0,368.4 614.5,368.5 613.0,368.4 611.5,368.1 610.0,367.6 608.7,368.0 607.3,368.1 606.0,368.2 604.7,368.5 603.3,368.6 602.0,368.6 600.7,368.8 599.3,368.6 598.0,368.6 596.2,368.5 594.5,368.4 592.0,369.4 590.7,369.2 589.3,369.6 588.0,369.4 586.2,369.1 584.5,368.6 582.0,369.4 580.3,369.5 578.7,369.6 577.9,369.5" fill="#fc9600"/>
<polyline points="81.0,364.0 82.5,362.5 83.5,361.2 84.5,363.5 85.5,365.3 87.2,365.2 89.0,365.3 90.3,365.1 91.7,365.1 93.0,365.2 94.5,364.5 95.7,363.5 97.0,364.5 99.0,365.5 101.0,365.0 102.5,362.5 105.0,362.0 106.5,361.6 108.0,361.0 109.5,359.0 111.5,358.8 113.0,357.2 115.0,358.2 116.5,358.2 118.0,356.5 119.0,358.5 120.5,361.0 122.0,359.5 123.5,356.0 124.5,357.5 126.0,355.5 128.5,354.5 130.0,354.8 132.0,354.3 133.5,355.5 135.0,358.0 136.5,359.0 138.5,357.5 140.5,356.2 142.0,355.5 143.5,353.0 145.0,350.8 147.5,350.5 149.0,346.0 150.0,344.5 151.0,345.5 152.0,350.0 153.0,351.2 154.2,350.5 155.5,353.0 157.5,354.5 159.0,356.2 160.5,356.5 162.5,358.5 165.0,360.0 167.5,360.8 170.0,360.5 171.5,360.7 173.0,361.2 174.5,361.5 176.0,361.8 177.5,361.9 179.0,362.5 180.5,362.7 182.0,362.5 184.5,363.2 187.0,361.8 189.0,360.2 191.0,359.0 192.5,358.5 194.0,358.2 195.5,357.7 197.0,357.2 198.5,356.9 200.0,356.5 202.0,355.0 204.5,352.7 206.0,354.5 208.5,355.8 210.5,356.2 211.8,355.5 212.8,360.0 214.5,360.8 216.5,362.2 218.5,362.5 219.5,361.8 220.0,361.8 221.0,359.0 222.0,362.0 224.0,362.8 226.5,361.5 228.0,362.5 230.5,362.2 232.5,361.2 233.8,358.2 235.0,361.5 236.5,360.5 238.0,359.2 239.5,360.2 241.5,358.5 243.0,357.2 244.5,360.5 246.5,362.2 248.5,363.5 251.0,363.2 253.5,364.0 255.0,362.0 256.5,362.5 258.0,362.5 260.0,361.5 261.5,361.5 263.0,361.5 264.5,361.6 266.0,361.2 268.0,359.5 270.0,357.8 271.5,357.5 273.0,359.5 274.5,360.8 275.8,360.0 276.5,352.0 277.2,344.5 278.0,346.5 279.0,343.5 280.0,341.5 281.2,343.5 282.5,338.5 283.5,342.0 285.0,347.0 286.5,349.5 287.8,346.0 288.8,341.5 290.0,340.0 291.5,337.5 292.5,340.0 293.5,343.0 294.5,338.0 295.8,344.5 297.0,343.0 299.0,340.5 301.0,338.5 302.0,336.0 302.6,330.5 303.3,339.5 304.2,334.5 306.0,335.5 307.2,332.5 308.5,331.5 309.5,333.5 311.0,337.0 313.0,337.5 314.5,340.5 316.0,343.0 318.0,343.8 319.5,346.5 321.0,350.5 322.5,353.5 324.5,356.0 326.0,357.3 327.5,357.4 329.0,357.5 330.3,357.5 331.7,357.5 333.0,357.5 334.5,358.0 336.0,359.0 338.0,360.2 339.5,359.7 340.0,360.8 342.0,361.2 344.0,361.0 346.5,360.5 349.0,361.3 350.5,361.1 352.0,361.0 353.5,360.9 355.0,361.2 357.5,360.5 359.5,360.2 361.0,358.5 363.0,357.8 365.0,358.0 366.0,358.8 368.0,358.0 369.5,356.5 371.5,357.0 373.0,356.2 374.5,358.0 375.8,353.5 377.5,354.8 379.5,354.5 381.5,354.0 383.5,354.8 385.5,355.0 386.5,351.5 387.8,346.8 389.5,347.5 390.5,349.5 392.5,351.0 393.8,352.0 394.8,349.5 396.0,352.5 397.5,350.0 398.8,347.5 400.0,347.5 401.2,351.0 402.5,354.0 404.0,352.5 405.2,350.8 406.5,353.0 408.0,355.5 409.2,357.5 410.0,361.0 412.5,361.2 414.5,362.5 416.5,364.8 418.5,365.0 421.0,364.5 422.5,364.1 424.0,364.2 425.8,364.4 427.5,364.1 428.8,361.6 429.8,364.3 431.4,364.1 433.0,364.1 434.5,364.2 436.0,364.3 437.5,363.1 439.0,361.9 440.5,363.1 442.0,364.6 444.5,364.9 446.2,365.3 448.0,365.3 449.3,365.3 450.7,365.0 452.0,364.9 453.3,365.0 454.7,365.0 456.0,364.9 457.3,365.0 458.7,364.5 460.0,364.6 462.0,363.9 464.0,365.1 465.3,365.3 466.7,365.1 468.0,365.3 469.3,365.1 470.7,365.4 472.0,365.1 473.3,365.1 474.7,365.1 476.0,364.9 477.8,365.0 479.5,364.6 480.0,365.1 482.0,363.3 483.5,365.1 485.0,365.3 486.5,365.0 488.0,364.9 489.3,364.9 490.7,364.8 492.0,364.6 493.3,364.9 494.7,365.3 496.0,365.4 497.3,365.3 498.7,365.3 500.0,365.1 501.3,364.9 502.7,364.9 504.0,364.3 505.5,364.8 507.0,364.9 508.5,365.0 510.0,364.6 511.5,365.2 513.0,365.1 514.4,365.1 515.8,365.3 517.2,365.6 518.6,365.6 520.0,365.4 521.4,365.2 522.9,365.2 524.3,365.4 525.7,365.2 527.1,365.3 528.6,365.2 530.0,365.4 531.4,365.6 532.9,365.6 534.3,365.7 535.7,365.2 537.1,365.6 538.6,365.5 540.0,365.4 541.4,365.2 542.7,365.5 544.1,365.5 545.4,365.0 546.8,365.4 548.1,365.0 549.5,364.9 550.0,364.6 551.5,364.6 553.0,364.6 554.5,365.3 556.0,365.4 558.5,364.6 561.0,365.6 563.5,364.6 566.0,365.4 567.3,365.6 568.7,365.2 570.0,365.4 571.3,365.3 572.7,365.3 574.0,365.1 576.5,363.3 579.0,361.9 580.5,362.2 582.0,362.6 584.5,364.3 586.5,362.6 589.0,363.1 590.5,363.1 592.0,363.3 594.5,364.9 597.0,364.6 598.5,363.6 600.0,364.6 601.5,363.6 603.5,364.6 605.5,365.6 607.2,365.7 609.0,365.9 610.5,364.6 612.5,364.1 615.0,364.6 617.0,365.3 619.5,365.6 621.0,364.9 623.5,363.6 625.5,362.6 627.2,362.8 629.0,362.6 630.5,361.7 632.0,361.3 634.5,362.6 636.5,364.3 639.0,365.1 640.3,365.3 641.7,365.4 643.0,365.6 644.5,365.7 646.0,366.3 647.4,366.4 648.7,366.6" class="ol"/>
<polyline points="81.0,366.0 82.5,367.0 83.5,368.5 84.5,367.2 85.5,366.2 87.2,366.4 89.0,366.5 90.3,366.5 91.7,366.2 93.0,366.5 94.5,367.1 96.0,367.2 98.0,366.5 100.5,367.0 102.5,366.2 105.0,366.8 106.5,367.2 108.0,367.2 110.0,368.2 111.5,368.6 113.0,368.5 114.5,367.9 116.0,367.8 117.5,368.2 118.5,366.5 120.0,367.2 122.0,368.5 124.0,370.2 126.0,369.5 128.5,370.0 131.0,369.0 132.5,368.4 134.0,368.0 135.5,367.5 137.0,367.5 138.5,367.9 140.0,368.0 142.0,369.0 144.0,368.5 145.5,370.0 147.0,369.0 148.5,371.0 150.0,371.0 151.5,369.0 153.0,367.5 155.0,369.0 157.0,369.2 159.0,368.0 161.0,367.0 163.0,366.0 164.5,365.6 166.0,365.5 167.5,365.0 169.0,365.0 171.0,364.8 172.5,365.0 174.0,365.3 175.5,365.8 177.0,365.8 178.5,365.6 180.0,365.0 181.3,364.9 182.7,364.8 184.0,365.0 185.5,365.3 187.0,365.0 188.5,364.2 190.2,364.1 192.0,364.0 193.3,364.0 194.7,363.6 196.0,363.7 197.3,363.3 198.7,363.5 200.0,363.3 202.5,362.2 204.5,361.8 206.0,363.0 208.5,364.2 210.5,363.5 212.0,365.0 213.5,365.1 215.0,365.3 216.5,365.3 218.0,365.8 219.5,366.2 220.0,366.0 222.0,366.8 224.0,367.2 225.5,367.0 227.0,366.2 228.5,366.2 230.0,366.0 231.5,365.9 233.0,365.5 235.0,367.2 236.5,367.0 238.0,367.2 239.5,367.3 241.0,367.0 242.5,366.5 244.5,367.5 246.5,368.0 249.0,367.0 251.5,366.5 253.5,367.2 256.0,366.8 258.5,367.2 261.0,367.5 262.5,367.1 264.0,367.2 266.0,366.5 267.5,366.9 269.0,366.8 270.0,366.5 271.5,366.3 273.0,366.2 275.5,366.5 276.5,368.0 277.2,373.0 277.8,375.0 279.5,374.5 281.0,375.0 282.5,376.0 284.0,373.0 285.5,370.5 286.8,370.0 288.0,372.0 289.5,374.0 291.0,375.5 292.0,376.5 293.0,373.0 294.0,370.0 294.8,373.5 295.8,371.5 297.5,372.0 300.0,372.2 301.5,371.0 302.5,374.5 303.5,371.0 305.0,373.0 306.5,371.5 308.0,373.0 310.0,373.5 311.5,373.0 313.0,370.5 314.5,371.2 316.5,371.2 318.5,369.8 321.0,369.3 322.5,369.0 324.0,368.8 325.3,368.7 326.7,368.9 328.0,368.5 329.3,368.3 330.7,368.1 332.0,368.2 333.3,368.2 334.7,368.0 336.0,368.2 337.8,368.1 339.5,368.5 340.0,367.5 341.5,367.1 343.0,367.2 344.5,367.2 346.0,367.8 347.5,367.5 349.0,367.5 350.5,367.5 352.0,367.8 353.5,367.4 355.0,367.2 356.5,367.5 358.0,367.5 359.5,367.6 361.0,368.0 362.5,368.3 364.0,368.5 365.5,368.1 367.0,368.0 368.5,368.2 370.0,368.5 371.5,368.2 373.0,368.5 374.5,369.0 375.8,370.0 377.5,368.8 380.0,368.0 381.5,367.9 383.0,368.0 385.5,368.8 386.8,370.0 388.0,372.2 389.2,371.5 390.5,369.5 392.5,370.0 394.0,371.0 395.5,370.5 396.8,369.5 398.0,370.0 399.2,372.0 400.5,371.5 401.8,369.5 403.2,369.5 405.0,371.0 406.5,369.5 408.0,368.2 409.5,367.2 410.0,367.0 411.5,366.7 413.0,367.0 415.5,366.5 417.5,366.0 420.0,366.2 421.7,366.3 423.3,366.2 425.0,366.2 426.7,366.1 428.3,366.5 430.0,366.6 431.7,367.0 433.3,366.6 435.0,366.9 437.5,367.6 439.2,368.9 441.0,367.6 442.5,367.7 444.0,367.4 445.5,367.4 447.0,367.5 448.5,367.8 450.0,367.6 451.5,367.5 453.0,367.6 454.5,367.7 456.0,367.6 457.3,367.8 458.7,367.2 460.0,367.2 461.5,367.4 463.0,367.2 464.5,367.7 466.0,367.9 467.5,368.0 469.0,367.8 470.5,367.8 472.0,367.9 473.3,367.7 474.7,367.9 476.0,368.2 477.8,367.6 479.5,367.6 480.0,367.6 481.7,367.7 483.3,367.5 485.0,367.6 486.4,367.4 487.8,367.4 489.2,367.8 490.6,367.8 492.0,367.6 493.3,367.8 494.7,367.6 496.0,367.6 497.3,367.7 498.7,367.8 500.0,367.9 501.7,367.9 503.3,368.2 505.0,368.4 506.7,368.3 508.3,368.7 510.0,368.4 511.5,368.4 513.0,367.9 514.4,367.9 515.8,367.7 517.2,368.2 518.6,367.8 520.0,367.9 521.4,367.8 522.9,367.6 524.3,367.8 525.7,367.9 527.1,367.9 528.6,367.7 530.0,367.9 531.4,367.9 532.9,367.7 534.3,367.9 535.7,367.8 537.1,368.1 538.6,367.9 540.0,368.2 541.4,367.9 542.7,368.1 544.1,368.0 545.4,368.3 546.8,368.2 548.1,368.4 549.5,368.2 550.0,368.4 551.7,368.5 553.3,368.5 555.0,368.4 556.7,368.6 558.3,368.2 560.0,368.2 561.5,368.4 563.0,368.9 564.5,368.8 566.0,368.2 567.3,368.1 568.7,368.6 570.0,368.6 571.3,368.7 572.7,368.3 574.0,368.6 575.5,369.2 577.0,369.4 578.7,369.6 580.3,369.5 582.0,369.4 584.5,368.6 586.2,369.1 588.0,369.4 589.3,369.6 590.7,369.2 592.0,369.4 594.5,368.4 596.2,368.5 598.0,368.6 599.3,368.6 600.7,368.8 602.0,368.6 603.3,368.6 604.7,368.5 606.0,368.2 607.3,368.1 608.7,368.0 610.0,367.6 611.5,368.1 613.0,368.4 614.5,368.5 616.0,368.4 617.8,368.0 619.5,367.9 620.0,367.9 621.5,367.9 623.0,368.4 625.0,369.4 626.3,369.2 627.7,369.4 629.0,369.6 630.3,369.4 631.7,369.8 633.0,369.6 634.5,369.3 636.0,368.9 637.3,368.8 638.7,368.6 640.0,368.4 641.3,368.3 642.7,368.1 644.0,367.9 645.5,367.5 647.0,367.6 648.7,367.4" class="ol"/>
</g>
<rect x="81.56" y="234.2" width="496.33" height="6.2" fill="#fc2200"/>
<rect x="577.89" y="234.2" width="70.90" height="6.2" fill="#fc9600"/>
<rect x="81.56" y="234.2" width="567.24" height="6.2" fill="none" stroke="#000" stroke-opacity="0.35" stroke-width="0.5"/>
<g class="ax">
<text transform="translate(74.6,31.1) scale(1.08,1)" text-anchor="end">100<tspan dx="0.65">0</tspan></text>
<text transform="translate(74.6,59.1) scale(1.08,1)" text-anchor="end">50<tspan dx="0.65">0</tspan></text>
<text transform="translate(74.6,88.1) scale(1.08,1)" text-anchor="end">0</text>
<text transform="translate(74.6,116.1) scale(1.08,1)" text-anchor="end">- 50<tspan dx="0.65">0</tspan></text>
<text transform="translate(74.6,144.1) scale(1.08,1)" text-anchor="end">- 100<tspan dx="0.65">0</tspan></text>
<text transform="translate(74.6,173.1) scale(1.08,1)" text-anchor="end">- 150<tspan dx="0.65">0</tspan></text>
<text transform="translate(74.6,201.1) scale(1.08,1)" text-anchor="end">- 200<tspan dx="0.65">0</tspan></text>
<text x="76.0" y="43" text-anchor="end" style="letter-spacing:0.35px;font-size:11.6px">(nT)</text>
<text transform="translate(74.6,258.1) scale(1.08,1)" text-anchor="end">200<tspan dx="0.65">0</tspan></text>
<text transform="translate(74.6,286.1) scale(1.08,1)" text-anchor="end">150<tspan dx="0.65">0</tspan></text>
<text transform="translate(74.6,314.1) scale(1.08,1)" text-anchor="end">100<tspan dx="0.65">0</tspan></text>
<text transform="translate(74.6,343.1) scale(1.08,1)" text-anchor="end">50<tspan dx="0.65">0</tspan></text>
<text transform="translate(74.6,371.1) scale(1.08,1)" text-anchor="end">0</text>
<text transform="translate(74.6,399.1) scale(1.08,1)" text-anchor="end">- 50<tspan dx="0.65">0</tspan></text>
<text x="76.0" y="270" text-anchor="end" style="letter-spacing:0.35px;font-size:11.6px">(nT)</text>
<g class="xl">
<text x="81.2" y="208.3" text-anchor="middle">00</text>
<text x="223.0" y="208.3" text-anchor="middle">06</text>
<text x="364.8" y="208.3" text-anchor="middle">12</text>
<text x="506.6" y="208.3" text-anchor="middle">18</text>
<text x="648.4" y="208.3" text-anchor="middle">24</text>
<text x="81.2" y="407" text-anchor="middle">00</text>
<text x="223.0" y="407" text-anchor="middle">06</text>
<text x="364.8" y="407" text-anchor="middle">12</text>
<text x="506.6" y="407" text-anchor="middle">18</text>
<text x="648.4" y="407" text-anchor="middle">24</text>
</g>
</g>
<text x="365.1" y="221.3" text-anchor="middle" style="font-size:14.6px">U T</text>
<text x="365.1" y="420.7" text-anchor="middle" style="font-size:14.6px">U T</text>
<g class="lg">
<text x="669.7" y="65.3" style="fill:#ff0a84;stroke:#ff0a84" text-anchor="end">12</text>
<text x="669.7" y="77.3" style="fill:#ff2200;stroke:#ff2200" text-anchor="end">11</text>
<text x="669.7" y="89.3" style="fill:#ff9500;stroke:#ff9500" text-anchor="end">10</text>
<text x="669.7" y="101.3" style="fill:#ffff00;stroke:#ffff00" text-anchor="end">9</text>
<text x="669.7" y="113.3" style="fill:#99ff00;stroke:#99ff00" text-anchor="end">8</text>
<text x="669.7" y="125.3" style="fill:#00ffcc;stroke:#00ffcc" text-anchor="end">7</text>
<text x="669.7" y="137.3" style="fill:#0080ff;stroke:#0080ff" text-anchor="end">6</text>
<text x="669.7" y="149.3" style="fill:#4000ff;stroke:#4000ff" text-anchor="end">5</text>
<text x="669.7" y="161.3" style="fill:#ff00ff;stroke:#ff00ff" text-anchor="end">4</text>
<text x="669.7" y="173.3" style="fill:#000000;stroke:#000000" text-anchor="end">3</text>
<text x="669.7" y="185.3" style="fill:#555555;stroke:#555555" text-anchor="end">2</text>
<text x="669.7" y="197.3" style="fill:#cccccc;stroke:#cccccc" text-anchor="end">1</text>
<text x="669.7" y="263.8" style="fill:#ff0a84;stroke:#ff0a84" text-anchor="end">12</text>
<text x="669.7" y="275.8" style="fill:#ff2200;stroke:#ff2200" text-anchor="end">11</text>
<text x="669.7" y="287.8" style="fill:#ff9500;stroke:#ff9500" text-anchor="end">10</text>
<text x="669.7" y="299.8" style="fill:#ffff00;stroke:#ffff00" text-anchor="end">9</text>
<text x="669.7" y="311.8" style="fill:#99ff00;stroke:#99ff00" text-anchor="end">8</text>
<text x="669.7" y="323.8" style="fill:#00ffcc;stroke:#00ffcc" text-anchor="end">7</text>
<text x="669.7" y="335.8" style="fill:#0080ff;stroke:#0080ff" text-anchor="end">6</text>
<text x="669.7" y="347.8" style="fill:#4000ff;stroke:#4000ff" text-anchor="end">5</text>
<text x="669.7" y="359.8" style="fill:#ff00ff;stroke:#ff00ff" text-anchor="end">4</text>
<text x="669.7" y="371.8" style="fill:#000000;stroke:#000000" text-anchor="end">3</text>
<text x="669.7" y="383.8" style="fill:#555555;stroke:#555555" text-anchor="end">2</text>
<text x="669.7" y="395.8" style="fill:#cccccc;stroke:#cccccc" text-anchor="end">1</text>
</g>
</svg>
</body></html>
